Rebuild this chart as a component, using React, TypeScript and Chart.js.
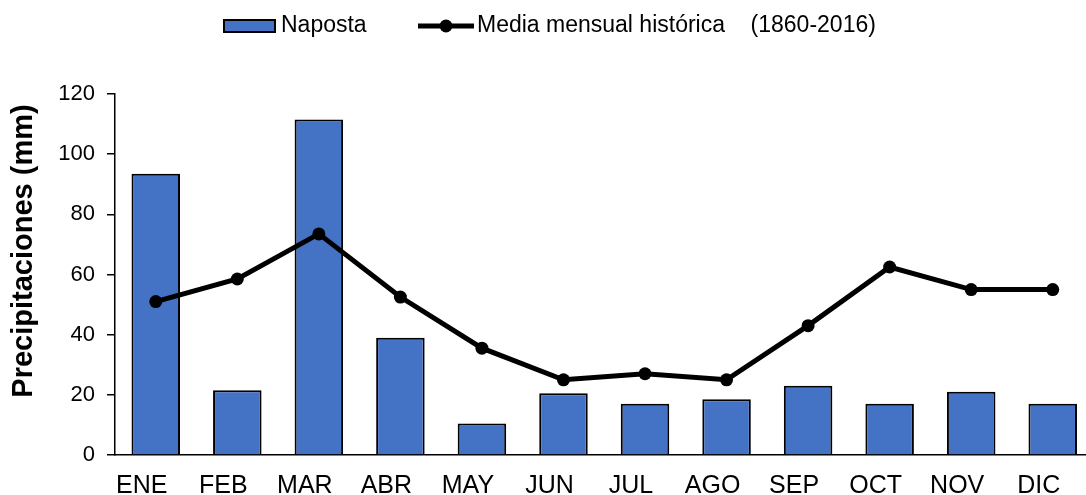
import React, { useEffect, useRef } from "react";
import { Chart, registerables } from "chart.js";

Chart.register(...registerables);

const months = ["ENE", "FEB", "MAR", "ABR", "MAY", "JUN", "JUL", "AGO", "SEP", "OCT", "NOV", "DIC"];
const naposta = [93.5, 21.5, 111.5, 39, 10.5, 20.5, 17, 18.5, 23, 17, 21, 17];
const mediaHistorica = [51, 58.5, 73.5, 52.5, 35.5, 25, 27, 25, 43, 62.5, 55, 55];
const yTicks = [0, 20, 40, 60, 80, 100, 120];
const barLabel = "Naposta";
const lineLabel = "Media mensual histórica    (1860-2016)";
const yTitle = "Precipitaciones (mm)";

const FONT = "'Liberation Sans', Arial, Helvetica, sans-serif";
const BAR_COLOR = "#4472C4";

const overlayPlugin = {
  id: "overlayText",
  afterDraw(chart: any) {
    const ctx = chart.ctx as CanvasRenderingContext2D;
    ctx.save();
    // x category labels (shifted slightly left, as in the reference)
    const xs = chart.scales.x;
    ctx.font = `25px ${FONT}`;
    ctx.fillStyle = "#000";
    ctx.textAlign = "center";
    ctx.textBaseline = "alphabetic";
    months.forEach((m, i) => {
      ctx.fillText(m, xs.getPixelForValue(i) - 14, 493);
    });
    // legend
    ctx.font = `23px ${FONT}`;
    ctx.textBaseline = "middle";
    ctx.textAlign = "left";
    ctx.fillStyle = BAR_COLOR;
    ctx.fillRect(224, 20, 51, 12);
    ctx.strokeStyle = "#000";
    ctx.lineWidth = 2;
    ctx.strokeRect(224, 20, 51, 12);
    ctx.fillStyle = "#000";
    ctx.fillText(barLabel, 281, 26);
    ctx.beginPath();
    ctx.lineWidth = 5;
    ctx.moveTo(418, 26);
    ctx.lineTo(474, 26);
    ctx.stroke();
    ctx.beginPath();
    ctx.arc(446, 26, 6.5, 0, Math.PI * 2);
    ctx.fill();
    ctx.fillText(lineLabel, 477, 26);
    // y title
    ctx.translate(24, 251);
    ctx.rotate(-Math.PI / 2);
    ctx.textAlign = "center";
    ctx.font = `bold 29px ${FONT}`;
    ctx.fillText(yTitle, 0, 0);
    ctx.restore();
  },
};

export default function App() {
  const ref = useRef<HTMLCanvasElement | null>(null);
  useEffect(() => {
    if (!ref.current) return;
    const chart = new Chart(ref.current, {
      type: "bar",
      data: {
        labels: months,
        datasets: [
          {
            type: "bar",
            label: barLabel,
            data: naposta,
            backgroundColor: BAR_COLOR,
            borderColor: "#000",
            borderWidth: 2,
            barPercentage: 0.595,
            categoryPercentage: 1,
            order: 2,
          },
          {
            type: "line",
            label: lineLabel,
            data: mediaHistorica,
            borderColor: "#000",
            backgroundColor: "#000",
            borderWidth: 5,
            pointRadius: 6.5,
            pointBorderWidth: 0,
            pointBackgroundColor: "#000",
            tension: 0,
            order: 1,
          } as any,
        ],
      },
      options: {
        responsive: false,
        animation: false,
        layout: { padding: { top: 94, right: 3, left: 0, bottom: 0 } },
        plugins: {
          legend: { display: false },
          tooltip: { enabled: false },
          title: { display: false },
        },
        scales: {
          x: {
            grid: { display: false, drawTicks: false },
            border: { color: "#000", width: 1.5 },
            ticks: { display: false },
            afterFit: (scale: any) => {
              scale.height = 40;
            },
          },
          y: {
            min: 0,
            max: 120,
            afterBuildTicks: (scale: any) => {
              scale.ticks = yTicks.map((v) => ({ value: v }));
            },
            grid: {
              drawOnChartArea: false,
              drawTicks: true,
              tickLength: 8,
              color: "#000",
              lineWidth: 1.5,
            },
            border: { color: "#000", width: 1.5 },
            ticks: {
              color: "#000",
              font: { family: FONT, size: 22 },
              padding: 12,
            },
            afterFit: (scale: any) => {
              scale.width = 115;
            },
          },
        },
      },
      plugins: [overlayPlugin],
    });
    return () => chart.destroy();
  }, []);
  return (
    <div style={{ position: "fixed", left: 0, top: 0, width: 1086, height: 495, overflow: "hidden", background: "#fff" }}>
      <canvas ref={ref} width={1100} height={495} style={{ display: "block", width: 1100, height: 495 }} />
    </div>
  );
}
